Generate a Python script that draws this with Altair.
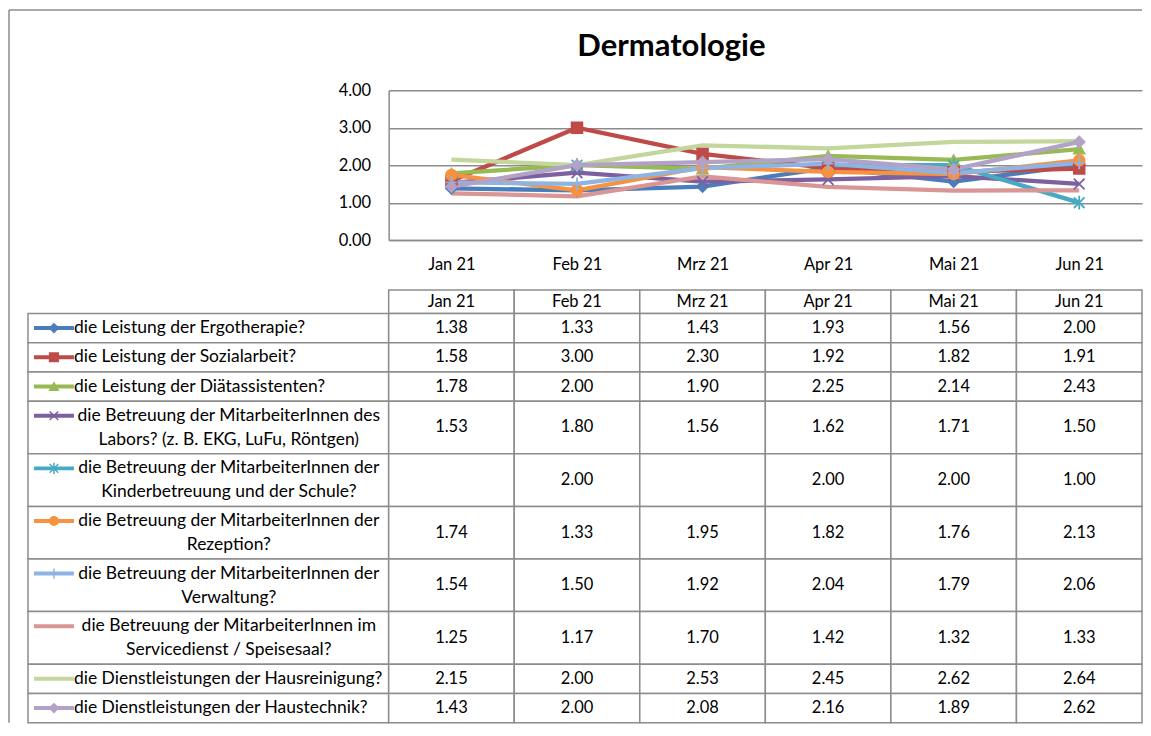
import altair as alt
import pandas as pd
import numpy as np

# ---------------- data ----------------
months = ["Jan 21", "Feb 21", "Mrz 21", "Apr 21", "Mai 21", "Jun 21"]

series = [
    "die Leistung der Ergotherapie?",
    "die Leistung der Sozialarbeit?",
    "die Leistung der Diätassistenten?",
    "die Betreuung der MitarbeiterInnen des Labors? (z. B. EKG, LuFu, Röntgen)",
    "die Betreuung der MitarbeiterInnen der Kinderbetreuung und der Schule?",
    "die Betreuung der MitarbeiterInnen der Rezeption?",
    "die Betreuung der MitarbeiterInnen der Verwaltung?",
    "die Betreuung der MitarbeiterInnen im Servicedienst / Speisesaal?",
    "die Dienstleistungen der Hausreinigung?",
    "die Dienstleistungen der Haustechnik?",
]

label_lines = [
    ["die Leistung der Ergotherapie?"],
    ["die Leistung der Sozialarbeit?"],
    ["die Leistung der Diätassistenten?"],
    ["die Betreuung der MitarbeiterInnen des", "Labors? (z. B. EKG, LuFu, Röntgen)"],
    ["die Betreuung der MitarbeiterInnen der", "Kinderbetreuung und der Schule?"],
    ["die Betreuung der MitarbeiterInnen der", "Rezeption?"],
    ["die Betreuung der MitarbeiterInnen der", "Verwaltung?"],
    ["die Betreuung der MitarbeiterInnen im", "Servicedienst / Speisesaal?"],
    ["die Dienstleistungen der Hausreinigung?"],
    ["die Dienstleistungen der Haustechnik?"],
]

ergotherapie = [1.38, 1.33, 1.43, 1.93, 1.56, 2.00]
sozialarbeit = [1.58, 3.00, 2.30, 1.92, 1.82, 1.91]
diaet = [1.78, 2.00, 1.90, 2.25, 2.14, 2.43]
labor = [1.53, 1.80, 1.56, 1.62, 1.71, 1.50]
kinder = [None, 2.00, None, 2.00, 2.00, 1.00]
rezeption = [1.74, 1.33, 1.95, 1.82, 1.76, 2.13]
verwaltung = [1.54, 1.50, 1.92, 2.04, 1.79, 2.06]
service = [1.25, 1.17, 1.70, 1.42, 1.32, 1.33]
reinigung = [2.15, 2.00, 2.53, 2.45, 2.62, 2.64]
haustechnik = [1.43, 2.00, 2.08, 2.16, 1.89, 2.62]

values = [ergotherapie, sozialarbeit, diaet, labor, kinder,
          rezeption, verwaltung, service, reinigung, haustechnik]

colors = ["#4a7ebb", "#be4b48", "#98b954", "#7d60a0", "#46aac5",
          "#f69240", "#8eb4e3", "#d99694", "#c3d69b", "#b3a2c7"]

X_PATH = "M-1,-1L1,1M-1,1L1,-1"
STAR_PATH = "M-1,-1L1,1M-1,1L1,-1M0,-1.3L0,1.3"
PLUS_PATH = "M0,-1.2L0,1.2M-1,0L1,0"
marker_shapes = ["diamond", "square", "triangle-up", X_PATH, STAR_PATH,
                 "circle", PLUS_PATH, None, None, "diamond"]

marker_series = [s for s, m in zip(series, marker_shapes) if m is not None]
marker_range = [m for m in marker_shapes if m is not None]

FONT = "Lato"
GRID = "#8c8c8c"
FS_TXT = 17.5
FS_NUM = 16.5

LEG_W = 361
DATA_W = 754
PLOT_H = 150
TABLE_H = 433

# ---------------- line-chart data ----------------
rows = []
for s, vals in zip(series, values):
    seg = 0
    for m, v in zip(months, vals):
        if v is None:
            seg += 1
            continue
        rows.append(dict(series=s, month=m, value=v, seg=f"{s}|{seg}"))
line_df = pd.DataFrame(rows)

color_scale = alt.Scale(domain=series, range=colors)
shape_scale = alt.Scale(domain=marker_series, range=marker_range)

x_enc = alt.X("month:N", sort=months,
              scale=alt.Scale(domain=months, type="point", padding=0.5),
              axis=alt.Axis(title=None, labelAngle=0, ticks=False, domainColor=GRID,
                            domainWidth=1.5, labelFont=FONT, labelFontSize=FS_NUM,
                            labelColor="black", labelPadding=16, grid=False))
y_enc = alt.Y("value:Q", scale=alt.Scale(domain=[0, 4], nice=False),
              axis=alt.Axis(title=None, values=[0, 1, 2, 3, 4], format=".2f", ticks=False,
                            domainColor=GRID, domainWidth=1.5, gridColor=GRID, gridWidth=1.5,
                            labelFont=FONT, labelFontSize=FS_NUM, labelColor="black",
                            labelPadding=18))

lines = alt.Chart(line_df).mark_line(strokeWidth=4.3).encode(
    x=x_enc, y=y_enc,
    color=alt.Color("series:N", scale=color_scale, legend=None),
    detail="seg:N",
)
points = alt.Chart(line_df).transform_filter(
    alt.FieldOneOfPredicate(field="series", oneOf=marker_series)
).mark_point(strokeWidth=1.8, opacity=1, fillOpacity=1, size=115).encode(
    x=x_enc, y=y_enc,
    stroke=alt.Stroke("series:N", scale=color_scale, legend=None),
    fill=alt.Fill("series:N", scale=color_scale, legend=None),
    shape=alt.Shape("series:N", scale=shape_scale, legend=None),
)
line_chart = alt.layer(lines, points).properties(
    width=DATA_W, height=PLOT_H,
    title=alt.Title("Dermatologie", anchor="middle", frame="group", dx=-94,
                    offset=-5, baseline="alphabetic", font=FONT, fontSize=31,
                    fontWeight="bold", color="black"),
)

# ---------------- blank cell holding the outer frame ----------------
frame_df = pd.DataFrame({"a": [0]})
frame_left = alt.Chart(frame_df).mark_rule(color=GRID, strokeWidth=1.5).encode(
    x=alt.value(-19), y=alt.value(-80.3), y2=alt.value(633))
frame_top = alt.Chart(frame_df).mark_rule(color=GRID, strokeWidth=1.5).encode(
    x=alt.value(-19), x2=alt.value(LEG_W + DATA_W), y=alt.value(-80.3))
blank = alt.layer(frame_left, frame_top).properties(width=LEG_W, height=PLOT_H)

# ---------------- table ----------------
line_counts = [len(l) for l in label_lines]
row_units = [1.0] + [n + 0.25 for n in line_counts]
edges = np.concatenate([[0.0], np.cumsum(row_units)])
total = float(edges[-1])

cells = []
for j, m in enumerate(months):
    cells.append(dict(x0=j, x1=j + 1, xc=j + 0.5, y0=edges[0], y1=edges[1],
                      yc=(edges[0] + edges[1]) / 2, label=m))
    for i, vals in enumerate(values):
        v = vals[j]
        cells.append(dict(x0=j, x1=j + 1, xc=j + 0.5, y0=edges[i + 1], y1=edges[i + 2],
                          yc=(edges[i + 1] + edges[i + 2]) / 2,
                          label="" if v is None else f"{v:.2f}"))
cell_df = pd.DataFrame(cells)

ysc = alt.Scale(domain=[0, total], reverse=True, nice=False, zero=False)
xsc = alt.Scale(domain=[0, 6], nice=False, zero=False)

table_rects = alt.Chart(cell_df).mark_rect(fill="white", stroke=GRID, strokeWidth=1.5).encode(
    x=alt.X("x0:Q", scale=xsc, axis=None), x2="x1:Q",
    y=alt.Y("y0:Q", scale=ysc, axis=None), y2="y1:Q")
table_text = alt.Chart(cell_df).mark_text(font=FONT, fontSize=FS_NUM, color="black",
                                          baseline="middle").encode(
    x=alt.X("xc:Q", scale=xsc, axis=None),
    y=alt.Y("yc:Q", scale=ysc, axis=None),
    text="label:N")
data_table = alt.layer(table_rects, table_text).properties(width=DATA_W, height=TABLE_H)

leg_df = pd.DataFrame(dict(
    series=series,
    text=["\n".join(l) for l in label_lines],
    lines=line_counts,
    x0=[0] * len(series), x1=[1] * len(series),
    y0=edges[1:-1], y1=edges[2:],
    yc=(edges[1:-1] + edges[2:]) / 2,
    key_y=edges[1:-1] + 0.625,
))
lsc = alt.Scale(domain=[0, 1], nice=False, zero=False)

leg_rects = alt.Chart(leg_df).mark_rect(fill="white", stroke=GRID, strokeWidth=1.5).encode(
    x=alt.X("x0:Q", scale=lsc, axis=None), x2="x1:Q",
    y=alt.Y("y0:Q", scale=ysc, axis=None), y2="y1:Q")
leg_text1 = alt.Chart(leg_df).transform_filter("datum.lines == 1").mark_text(
    font=FONT, fontSize=FS_TXT, color="black", align="left", baseline="middle").encode(
    x=alt.value(46), y=alt.Y("yc:Q", scale=ysc, axis=None), text="text:N")
leg_text2 = alt.Chart(leg_df).transform_filter("datum.lines == 2").mark_text(
    font=FONT, fontSize=FS_TXT, color="black", align="center", baseline="middle",
    lineBreak="\n", lineHeight=24).encode(
    x=alt.value(201), y=alt.Y("key_y:Q", scale=ysc, axis=None), text="text:N")
leg_key_line = alt.Chart(leg_df).mark_rule(strokeWidth=4).encode(
    x=alt.value(6), x2=alt.value(46),
    y=alt.Y("key_y:Q", scale=ysc, axis=None),
    color=alt.Color("series:N", scale=color_scale, legend=None))
leg_key_pt = alt.Chart(leg_df).transform_filter(
    alt.FieldOneOfPredicate(field="series", oneOf=marker_series)
).mark_point(strokeWidth=1.5, opacity=1, fillOpacity=1, size=75).encode(
    x=alt.value(26),
    y=alt.Y("key_y:Q", scale=ysc, axis=None),
    stroke=alt.Stroke("series:N", scale=color_scale, legend=None),
    fill=alt.Fill("series:N", scale=color_scale, legend=None),
    shape=alt.Shape("series:N", scale=shape_scale, legend=None),
)
legend_table = alt.layer(leg_rects, leg_key_line, leg_key_pt, leg_text1, leg_text2).properties(
    width=LEG_W, height=TABLE_H)

chart = alt.concat(
    blank, line_chart, legend_table, data_table,
    columns=2, spacing={"row": 50, "column": 0}, bounds="flush", align="each",
).properties(
    padding=0,
).configure_view(strokeWidth=0).resolve_scale(
    color="independent", stroke="independent", fill="independent", shape="independent"
)

chart.save("out.html", embed_options={"renderer": "svg", "actions": False})
